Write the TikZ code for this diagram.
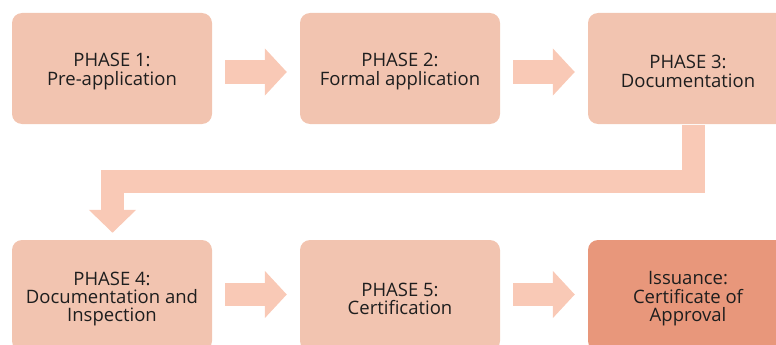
\documentclass[tikz,border=0pt]{standalone}
\usepackage{fontspec}
\setmainfont{Open Sans}
\usetikzlibrary{arrows.meta,calc}
\definecolor{boxfill}{HTML}{F2C4B0}
\definecolor{arrowfill}{HTML}{F9C9B6}
\definecolor{finalfill}{HTML}{E8977B}
\definecolor{ink}{HTML}{1E1E1E}
\begin{document}
\begin{tikzpicture}[x=1pt,y=-1pt,
  phasebox/.style={rectangle,rounded corners=10pt,fill=boxfill,draw=none,
    minimum width=200pt,minimum height=111pt,inner sep=0pt},
  finalbox/.style={phasebox,fill=finalfill},
  phasetext/.style={inner sep=0pt,text=ink,align=center,
    font=\fontsize{18.5}{18.4}\selectfont},
  blockarrow/.style={draw=arrowfill,line width=23pt,
    -{Triangle[width=46pt,length=22pt,fill=arrowfill]}},
  bentarrow/.style={blockarrow,line join=miter,
    -{Triangle[width=46pt,length=23pt,fill=arrowfill]}}]
\useasboundingbox (0,0) rectangle (776,345);
\clip (0,0) rectangle (776,345);
% top row
\node[phasebox] (p1) at (112,68.5) {};
\node[phasebox] (p2) at (400,68.5) {};
\node[phasebox] (p3) at (688,68.5) {};
% bottom row
\node[phasebox] (p4) at (112,295.5) {};
\node[phasebox] (p5) at (400,295.5) {};
\node[finalbox] (p6) at (688,295.5) {};
% box captions
\node[phasetext] (t1) at ($(p1)+(0,3)$) {PHASE 1:\\Pre-application};
\node[phasetext] (t2) at ($(p2)+(0,3)$) {PHASE 2:\\Formal application};
\node[phasetext] (t3) at ($(p3)+(0,3)$) {PHASE 3:\\Documentation};
\node[phasetext] (t4) at ($(p4)+(0,3.5)$) {PHASE 4:\\Documentation and\\Inspection};
\node[phasetext] (t5) at ($(p5)+(0,3.5)$) {PHASE 5:\\Certification};
\node[phasetext] (t6) at ($(p6)+(0,3.5)$) {Issuance:\\Certificate of\\Approval};
% straight arrows between neighbouring boxes
\draw[blockarrow] ($(p1.east)+(13,3.5)$) -- ($(p2.west)+(-13,3.5)$);
\draw[blockarrow] ($(p2.east)+(13,3.5)$) -- ($(p3.west)+(-13,3.5)$);
\draw[blockarrow] ($(p4.east)+(13,-1)$) -- ($(p5.west)+(-13,-1)$);
\draw[blockarrow] ($(p5.east)+(13,-1)$) -- ($(p6.west)+(-13,-1)$);
% return arrow from phase 3 down to phase 4
\coordinate (turnA) at ($(p3.south)+(5.5,57.5)$);
\coordinate (turnB) at ($(p4.north)+(0.5,-58.5)$);
\draw[bentarrow] ($(p3.south)+(5.5,1)$) -- (turnA) -- (turnA -| turnB) -- ($(p4.north)+(0.5,-7)$);
\end{tikzpicture}
\end{document}
